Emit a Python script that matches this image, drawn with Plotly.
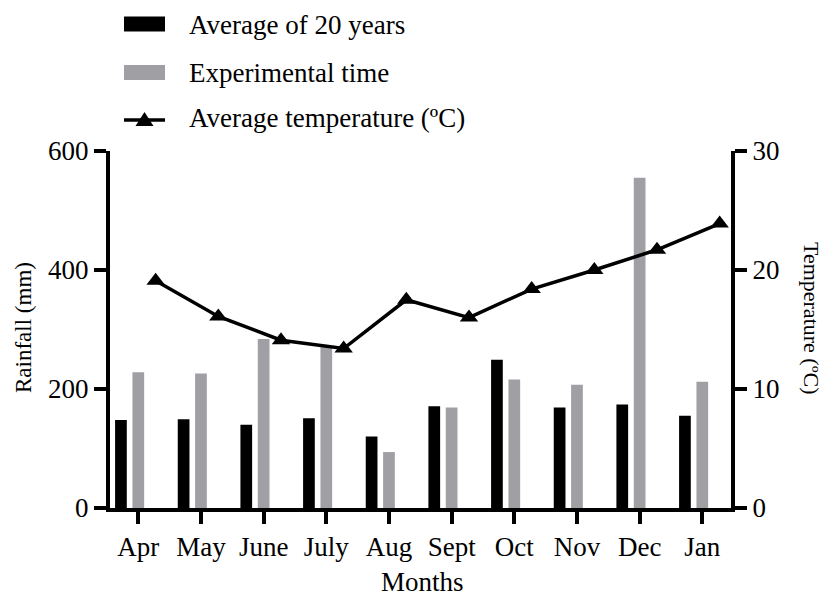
import plotly.graph_objects as go

months = ["Apr", "May", "June", "July", "Aug", "Sept", "Oct", "Nov", "Dec", "Jan"]
avg_20_years = [148, 149, 140, 151, 120, 171, 249, 169, 174, 155]
experimental = [228, 226, 284, 272, 94, 169, 216, 207, 555, 212]
avg_temp = [19.1, 16.1, 14.1, 13.4, 17.5, 16.0, 18.4, 20.0, 21.7, 23.9]
rain_ticks = [0, 200, 400, 600]
temp_ticks = [0, 10, 20, 30]

# the page body adds an 8px offset; size the figure so it fits the window
OFF = 8
W, H = 829 - OFF, 597 - OFF
# screen-space plot area
SX0, SX1, SY0, SY1 = 110, 731, 151, 508
ML, MR, MT, MB = SX0 - OFF, 829 - SX1, SY0 - OFF, 597 - SY1
PW, PH = W - ML - MR, H - MT - MB

def px(x):
    return (x - SX0) / PW

def py(y):
    return (SY1 - y) / PH

FONT = "Liberation Serif"
BLACK = "#000000"
GREY = "#A0A0A4"

idx = list(range(len(months)))
bar_w = 0.187
shift = 0.277

fig = go.Figure()
fig.add_trace(go.Bar(x=idx, y=avg_20_years, name="Average of 20 years",
                     width=bar_w, offset=-shift - bar_w / 2,
                     marker=dict(color=BLACK, line=dict(width=0)), showlegend=False))
fig.add_trace(go.Bar(x=idx, y=experimental, name="Experimental time",
                     width=bar_w, offset=-bar_w / 2,
                     marker=dict(color=GREY, line=dict(width=0)), showlegend=False))
fig.add_trace(go.Scatter(x=[i + shift for i in idx], y=avg_temp, yaxis="y2",
                         name="Average temperature (ºC)", mode="lines+markers",
                         line=dict(color=BLACK, width=3.5),
                         marker=dict(symbol="triangle-up", size=16, color=BLACK),
                         showlegend=False, cliponaxis=False))

axis_common = dict(showline=True, linewidth=4, linecolor=BLACK, ticks="outside",
                   ticklen=12, tickwidth=4, tickcolor=BLACK, showgrid=False,
                   zeroline=False, automargin=False,
                   tickfont=dict(family=FONT, size=27, color=BLACK))

fig.update_layout(
    width=W, height=H,
    margin=dict(l=ML, r=MR, t=MT, b=MB, autoexpand=False),
    paper_bgcolor="white", plot_bgcolor="white",
    barmode="overlay",
    showlegend=False,
    xaxis=dict(range=[-0.4516, 9.458], tickmode="array", tickvals=idx, ticktext=months,
               **axis_common),
    yaxis=dict(range=[0, 600], tickmode="array", tickvals=rain_ticks, **axis_common),
    yaxis2=dict(range=[0, 30], tickmode="array", tickvals=temp_ticks, overlaying="y", side="right",
                **axis_common),
)

# axis titles
fig.add_annotation(text="Months", xref="paper", yref="paper", x=px(422), y=py(582),
                   xanchor="center", yanchor="middle",
                   showarrow=False, font=dict(family=FONT, size=27, color=BLACK))
fig.add_annotation(text="Rainfall (mm)", xref="paper", yref="paper", x=px(23), y=py(327),
                   xanchor="center", yanchor="middle",
                   textangle=-90, showarrow=False, font=dict(family=FONT, size=23, color=BLACK))
fig.add_annotation(text="Temperature (ºC)", xref="paper", yref="paper", x=px(812), y=py(318),
                   xanchor="center", yanchor="middle",
                   textangle=90, showarrow=False, font=dict(family=FONT, size=22, color=BLACK))

# legend drawn in paper coordinates
legend_items = [("Average of 20 years", "bar", BLACK, 24, 25),
                ("Experimental time", "bar", GREY, 72.5, 73),
                ("Average temperature (ºC)", "line", BLACK, 120, 118)]
for label, kind, col, ys, yt in legend_items:
    if kind == "bar":
        fig.add_shape(type="rect", xref="paper", yref="paper", x0=px(124), x1=px(165),
                      y0=py(ys - 7.5), y1=py(ys + 7.5), fillcolor=col, line=dict(width=0))
    else:
        fig.add_shape(type="line", xref="paper", yref="paper", x0=px(124), x1=px(165),
                      y0=py(ys), y1=py(ys), line=dict(color=col, width=3.5))
        cx, cy = 144.5, ys
        path = "M {} {} L {} {} L {} {} Z".format(px(cx - 9), py(cy + 6), px(cx + 9), py(cy + 6),
                                                   px(cx), py(cy - 8))
        fig.add_shape(type="path", xref="paper", yref="paper", path=path,
                      fillcolor=col, line=dict(width=0))
    fig.add_annotation(text=label, xref="paper", yref="paper", x=px(187), y=py(yt),
                       xanchor="left", yanchor="middle", showarrow=False,
                       font=dict(family=FONT, size=27, color=BLACK))

fig.write_html("out.html")
